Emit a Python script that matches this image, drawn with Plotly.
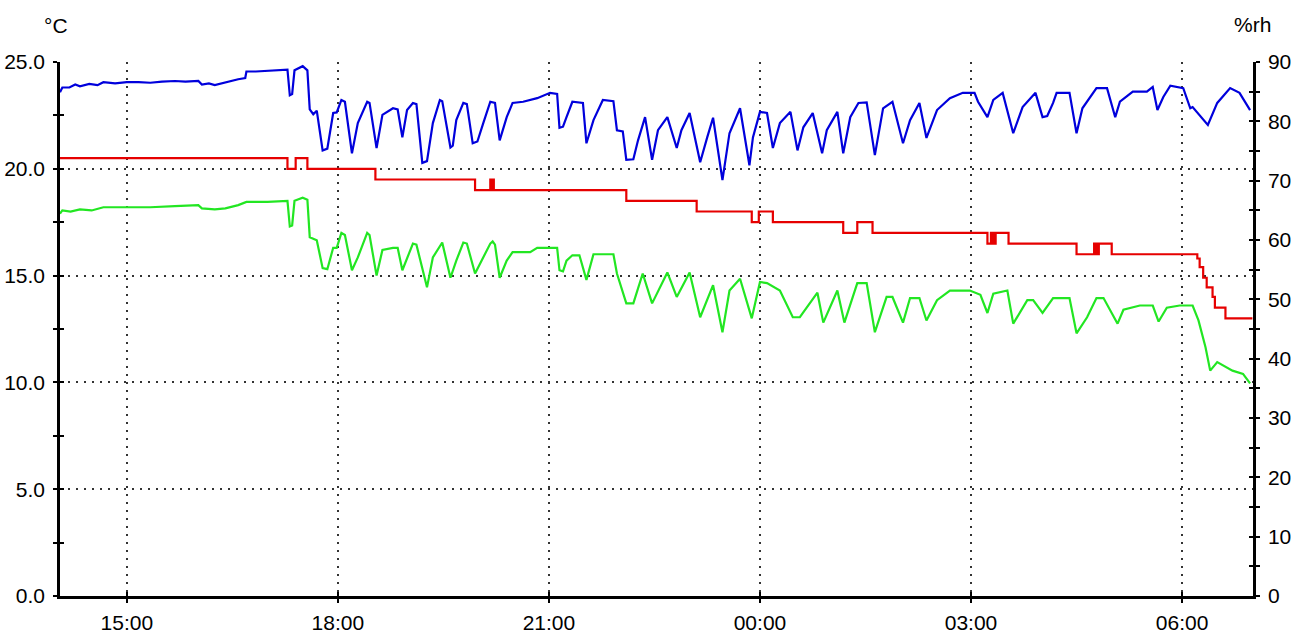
import plotly.graph_objects as go
from datetime import datetime, timedelta

# ---------------- data ----------------
DAY0 = datetime(2008, 10, 10)

# Relative humidity (%rh, right axis) - blue
rh_times = [
    "14:03", "14:05", "14:11", "14:16", "14:20", "14:28", "14:35", "14:40", "14:50", "15:00",
    "15:10", "15:20", "15:30", "15:41", "15:50", "16:01", "16:04", "16:10", "16:15", "16:24",
    "16:30", "16:35", "16:41", "16:42", "16:50", "17:00", "17:10", "17:17", "17:19", "17:21",
    "17:23", "17:30", "17:34", "17:36", "17:39", "17:42", "17:47", "17:51", "17:56", "17:59",
    "18:03", "18:06", "18:12", "18:17", "18:25", "18:27", "18:33", "18:38", "18:47", "18:51",
    "18:55", "18:59", "19:04", "19:07", "19:12", "19:16", "19:21", "19:27", "19:29", "19:36",
    "19:38", "19:41", "19:47", "19:50", "19:55", "19:59", "20:04", "20:10", "20:14", "20:18",
    "20:24", "20:29", "20:38", "20:50", "21:01", "21:07", "21:09", "21:12", "21:15", "21:20",
    "21:29", "21:32", "21:38", "21:46", "21:55", "21:58", "22:03", "22:06", "22:12", "22:16",
    "22:22", "22:28", "22:33", "22:41", "22:49", "22:53", "23:00", "23:09", "23:15", "23:20",
    "23:28", "23:34", "23:43", "23:51", "23:54", "00:00", "00:06", "00:11", "00:17", "00:26",
    "00:32", "00:37", "00:45", "00:53", "00:57", "01:06", "01:11", "01:17", "01:24", "01:31",
    "01:38", "01:45", "01:53", "02:02", "02:08", "02:16", "02:22", "02:31", "02:42", "02:53",
    "03:03", "03:06", "03:14", "03:19", "03:27", "03:36", "03:44", "03:55", "04:01", "04:05",
    "04:10", "04:13", "04:24", "04:30", "04:35", "04:47", "04:56", "05:03", "05:07", "05:18",
    "05:30", "05:35", "05:39", "05:44", "05:50", "06:01", "06:07", "06:09", "06:22", "06:30",
    "06:41", "06:49", "06:58",
]
rh_values = [
    84.9, 85.7, 85.7, 86.2, 85.9, 86.3, 86.1, 86.6, 86.4, 86.6,
    86.6, 86.5, 86.7, 86.8, 86.7, 86.8, 86.2, 86.4, 86.1, 86.6,
    86.9, 87.1, 87.3, 88.4, 88.4, 88.5, 88.6, 88.7, 84.4, 84.6,
    88.6, 89.3, 88.6, 82.0, 81.2, 81.8, 75.1, 75.4, 81.4, 81.5,
    83.6, 83.3, 74.6, 79.7, 83.3, 83.1, 75.5, 81.1, 82.2, 82.0,
    77.3, 81.9, 83.1, 82.9, 73.0, 73.3, 79.7, 83.6, 83.4, 75.6,
    75.9, 80.2, 83.1, 82.9, 76.3, 76.6, 79.7, 83.3, 83.1, 76.8,
    80.7, 83.1, 83.3, 83.9, 84.8, 84.6, 78.9, 79.1, 80.7, 83.3,
    83.1, 76.3, 80.2, 83.6, 83.4, 78.5, 78.3, 73.5, 73.6, 76.8,
    80.7, 73.5, 78.5, 80.7, 75.5, 78.5, 81.4, 73.1, 77.3, 80.6,
    70.1, 78.0, 82.2, 72.6, 77.3, 81.6, 81.4, 75.5, 79.7, 81.6,
    75.1, 79.0, 81.4, 74.6, 78.5, 81.6, 74.6, 80.7, 83.1, 83.2,
    74.3, 82.2, 83.3, 76.3, 80.2, 83.1, 77.2, 81.9, 83.9, 84.8,
    84.8, 83.3, 80.7, 83.6, 84.8, 78.0, 82.4, 84.8, 80.7, 80.9,
    83.1, 84.8, 84.8, 78.0, 82.2, 85.6, 85.6, 80.7, 83.3, 85.0,
    85.0, 85.8, 81.9, 84.1, 86.0, 85.6, 82.2, 82.4, 79.4, 83.1,
    85.6, 84.8, 81.9,
]

# Dew point (degC, left axis) - green
dp_times = [
    "14:03", "14:05", "14:12", "14:20", "14:30", "14:40", "15:00", "15:20", "15:41", "16:01",
    "16:04", "16:15", "16:24", "16:35", "16:42", "17:00", "17:17", "17:19", "17:21", "17:23",
    "17:30", "17:34", "17:36", "17:42", "17:47", "17:51", "17:56", "17:59", "18:03", "18:06",
    "18:12", "18:17", "18:25", "18:27", "18:33", "18:38", "18:47", "18:51", "18:55", "19:04",
    "19:07", "19:16", "19:21", "19:29", "19:36", "19:41", "19:47", "19:50", "19:57", "20:04",
    "20:10", "20:12", "20:14", "20:18", "20:24", "20:29", "20:44", "20:50", "21:07", "21:09",
    "21:12", "21:15", "21:20", "21:26", "21:32", "21:38", "21:55", "21:58", "22:06", "22:12",
    "22:20", "22:28", "22:41", "22:49", "23:00", "23:09", "23:20", "23:28", "23:34", "23:43",
    "23:53", "00:00", "00:06", "00:17", "00:28", "00:34", "00:49", "00:54", "01:06", "01:12",
    "01:23", "01:31", "01:38", "01:48", "01:53", "02:02", "02:08", "02:16", "02:22", "02:31",
    "02:42", "02:59", "03:08", "03:14", "03:19", "03:31", "03:36", "03:48", "03:53", "04:01",
    "04:10", "04:24", "04:30", "04:39", "04:47", "04:53", "05:05", "05:10", "05:24", "05:35",
    "05:40", "05:47", "05:58", "06:09", "06:14", "06:20", "06:24", "06:30", "06:43", "06:52",
    "06:58",
]
dp_values = [
    17.9, 18.05, 18.0, 18.1, 18.05, 18.2, 18.2, 18.2, 18.25, 18.3,
    18.15, 18.1, 18.15, 18.3, 18.45, 18.45, 18.5, 17.3, 17.35, 18.5,
    18.65, 18.55, 16.8, 16.65, 15.35, 15.3, 16.3, 16.3, 17.0, 16.9,
    15.25, 15.85, 17.0, 16.9, 15.0, 16.2, 16.3, 16.3, 15.25, 16.5,
    16.45, 14.45, 15.85, 16.55, 14.9, 15.7, 16.55, 16.5, 15.1, 15.85,
    16.5, 16.6, 16.45, 14.9, 15.7, 16.1, 16.1, 16.3, 16.3, 15.25,
    15.2, 15.7, 15.95, 15.95, 14.8, 16.0, 16.0, 15.1, 13.7, 13.7,
    15.1, 13.7, 15.15, 14.0, 15.15, 13.05, 14.55, 12.35, 14.3, 14.85,
    13.0, 14.7, 14.65, 14.3, 13.05, 13.05, 14.2, 12.8, 14.3, 12.8,
    14.65, 14.65, 12.35, 14.0, 14.0, 12.8, 13.95, 13.95, 12.9, 13.85,
    14.3, 14.3, 14.1, 13.25, 14.15, 14.3, 12.75, 13.85, 13.85, 13.25,
    13.95, 13.95, 12.3, 13.05, 13.95, 13.95, 12.75, 13.4, 13.6, 13.6,
    12.85, 13.5, 13.6, 13.6, 12.9, 11.65, 10.55, 10.95, 10.55, 10.4,
    9.95,
]

# Temperature (degC, left axis) - red, stepped
temp_times = [
    "14:03", "17:17", "17:24", "17:34", "18:32", "19:57", "20:10", "20:11", "20:12", "20:13",
    "22:06", "23:06", "23:53", "23:59", "00:11", "01:11", "01:23", "01:36", "03:14", "03:17",
    "03:18", "03:19", "03:20", "03:21", "03:32", "04:30", "04:45", "04:46", "04:47", "04:48",
    "04:49", "05:00", "06:13", "06:15", "06:18", "06:21", "06:26", "06:28", "06:37", "07:00",
]
temp_values = [
    20.5, 20.0, 20.5, 20.0, 19.5, 19.0, 19.5, 19.0, 19.5, 19.0,
    18.5, 18.0, 17.5, 18.0, 17.5, 17.0, 17.5, 17.0, 16.5, 17.0,
    16.5, 17.0, 16.5, 17.0, 16.5, 16.0, 16.5, 16.0, 16.5, 16.0,
    16.5, 16.0, 15.8, 15.4, 14.9, 14.45, 14.0, 13.5, 13.0, 13.0,
]

x_tick_labels = ["15:00", "18:00", "21:00", "00:00", "03:00", "06:00"]
x_range_labels = ["14:03", "07:00"]
temp_major_ticks = [0, 5, 10, 15, 20, 25]
temp_minor_ticks = [2.5, 7.5, 12.5, 17.5, 22.5]
rh_major_ticks = [0, 10, 20, 30, 40, 50, 60, 70, 80, 90]
rh_minor_ticks = [5, 15, 25, 35, 45, 55, 65, 75, 85]

assert len(rh_times) == len(rh_values)
assert len(dp_times) == len(dp_values)
assert len(temp_times) == len(temp_values)


def ts(hm):
    h, m = map(int, hm.split(":"))
    d = DAY0 + timedelta(hours=h, minutes=m)
    if h < 12:
        d += timedelta(days=1)
    return d


BLUE = "#0000dc"
RED = "#e60000"
GREEN = "#22e622"
FONT = "Arial, Liberation Sans, sans-serif"
FS = 21

x_range = [ts(x_range_labels[0]), ts(x_range_labels[1]) + timedelta(seconds=30)]
x_tickvals = [ts(l) for l in x_tick_labels]

fig = go.Figure()
fig.add_trace(go.Scatter(x=[ts(t) for t in dp_times], y=dp_values, mode="lines",
                         line=dict(color=GREEN, width=2.2), name="Dew point",
                         xaxis="x", yaxis="y"))
fig.add_trace(go.Scatter(x=[ts(t) for t in temp_times], y=temp_values, mode="lines",
                         line=dict(color=RED, width=2.2, shape="hv"), name="Temperature",
                         xaxis="x", yaxis="y"))
fig.add_trace(go.Scatter(x=[ts(t) for t in rh_times], y=rh_values, mode="lines",
                         line=dict(color=BLUE, width=2.2), name="Humidity",
                         xaxis="x", yaxis="y2"))
# empty traces so the overlay (inner tick) axes are drawn
fig.add_trace(go.Scatter(x=[None], y=[None], xaxis="x2", yaxis="y3", showlegend=False,
                         hoverinfo="skip", mode="lines"))
fig.add_trace(go.Scatter(x=[None], y=[None], xaxis="x2", yaxis="y4", showlegend=False,
                         hoverinfo="skip", mode="lines"))

GRID = dict(showgrid=True, gridcolor="#333333", gridwidth=1.5, griddash="2px,6px")
TICK = dict(tickcolor="black", tickwidth=2, ticklen=4)
LINE = dict(showline=True, linecolor="black", linewidth=2.5)

fig.update_layout(
    width=1300, height=635,
    margin=dict(l=60, r=47, t=62, b=39, autoexpand=False),
    paper_bgcolor="white", plot_bgcolor="white",
    showlegend=False,
    font=dict(family=FONT, size=FS, color="black"),
    xaxis=dict(type="date", range=x_range, tickmode="array", tickvals=x_tickvals,
               ticktext=x_tick_labels, ticks="outside", zeroline=False, automargin=False,
               ticklabelstandoff=2, tickfont=dict(size=FS), **GRID, **TICK, **LINE),
    yaxis=dict(range=[0, 25], tickmode="array", tickvals=temp_major_ticks,
               ticktext=[f"{v:.1f}" for v in temp_major_ticks], ticks="outside",
               minor=dict(tickmode="array", tickvals=temp_minor_ticks, ticks="outside",
                          ticklen=4, tickwidth=2, tickcolor="black", showgrid=False),
               zeroline=False, automargin=False, ticklabelstandoff=4,
               tickfont=dict(size=FS), **GRID, **TICK, **LINE),
    yaxis2=dict(range=[0, 90], overlaying="y", side="right", anchor="x",
                tickmode="array", tickvals=rh_major_ticks,
                ticktext=[str(v) for v in rh_major_ticks], ticks="outside",
                minor=dict(tickmode="array", tickvals=rh_minor_ticks, ticks="outside",
                           ticklen=4, tickwidth=2, tickcolor="black", showgrid=False),
                showgrid=False, zeroline=False, automargin=False, ticklabelstandoff=4,
                tickfont=dict(size=FS), **TICK, **LINE),
    xaxis2=dict(type="date", range=x_range, overlaying="x", anchor="y3", side="bottom",
                tickmode="array", tickvals=x_tickvals, ticks="inside", automargin=False,
                showticklabels=False, showgrid=False, zeroline=False, showline=False,
                **TICK),
    yaxis3=dict(range=[0, 25], overlaying="y", anchor="x2", side="left",
                tickmode="array", tickvals=temp_major_ticks + temp_minor_ticks,
                ticks="inside", showticklabels=False, showgrid=False, zeroline=False,
                showline=False, automargin=False, **TICK),
    yaxis4=dict(range=[0, 90], overlaying="y", anchor="x2", side="right",
                tickmode="array", tickvals=rh_major_ticks + rh_minor_ticks,
                ticks="inside", showticklabels=False, showgrid=False, zeroline=False,
                showline=False, automargin=False, **TICK),
    annotations=[
        dict(text="°C", xref="paper", yref="paper", x=-0.003, y=1.069,
             xanchor="center", yanchor="middle", showarrow=False,
             font=dict(size=FS, family=FONT)),
        dict(text="%rh", xref="paper", yref="paper", x=0.9992, y=1.071,
             xanchor="center", yanchor="middle", showarrow=False,
             font=dict(size=FS, family=FONT)),
    ],
)

fig.write_html("out.html", config={"displayModeBar": False},
               post_script="document.body.style.margin='0';")
